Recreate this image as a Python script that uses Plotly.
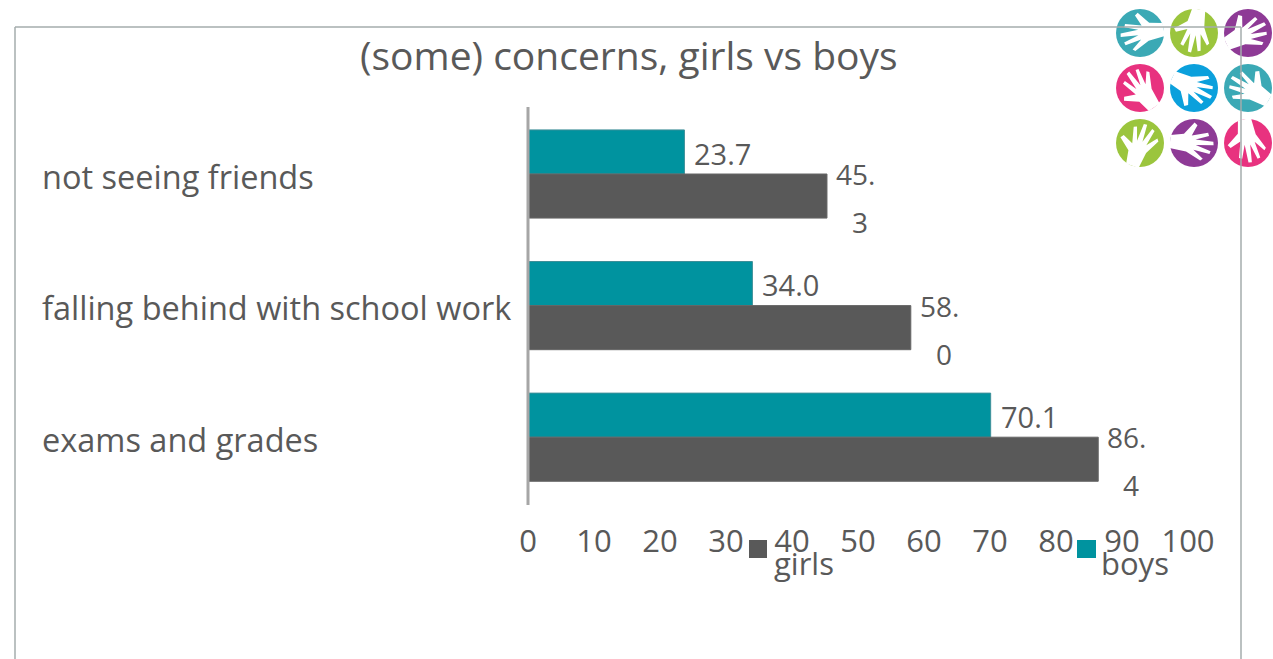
import math
import plotly.graph_objects as go

W, H = 1273, 659
FONT = "Open Sans"
TXT = "#595959"

title = "(some) concerns, girls vs boys"
categories = ["not seeing friends", "falling behind with school work", "exams and grades"]
boys = [23.7, 34.0, 70.1]
girls = [45.3, 58.0, 86.4]
tick_vals = [0, 10, 20, 30, 40, 50, 60, 70, 80, 90, 100]
BOYS_C = "#00939F"
GIRLS_C = "#595959"

def px(x): return x / W
def py(y): return 1 - y / H

fig = go.Figure()
fig.add_trace(go.Bar(name="boys", y=categories, x=boys, orientation="h",
                     marker=dict(color=BOYS_C, line=dict(color="#3d8f98", width=1))))
fig.add_trace(go.Bar(name="girls", y=categories, x=girls, orientation="h",
                     marker=dict(color=GIRLS_C, line=dict(color="#666666", width=1))))

ann = []
def note(text, x, y, size, anchor="left", xref="paper", yref="paper", xshift=0, yshift=0):
    ann.append(dict(text=text, x=x, y=y, xref=xref, yref=yref, xanchor=anchor, yanchor="middle",
                    showarrow=False, xshift=xshift, yshift=yshift,
                    font=dict(family=FONT, size=size, color=TXT)))

note(title, px(629), py(54), 39, "center")
for c in categories:
    note(c, px(40), c, 32.5, "left", "paper", "y", yshift=-2)

for c, v in zip(categories, boys):
    note(f"{v:.1f}", v, c, 29, "left", "x", "y", xshift=8, yshift=21)
for c, v in zip(categories, girls):
    s = f"{v:.1f}"
    a, b = s.split(".")
    note(a + ".", v, c, 28, "left", "x", "y", xshift=7, yshift=0)
    note(b, v, c, 28, "left", "x", "y", xshift=23, yshift=-48)

note("girls", px(772), py(563), 31)
note("boys", px(1099), py(563), 31)

shapes = []
def rect(x0, y0, x1, y1, color):
    shapes.append(dict(type="rect", xref="paper", yref="paper", x0=px(x0), x1=px(x1),
                       y0=py(y0), y1=py(y1), fillcolor=color, line=dict(width=0)))

rect(749, 540, 767, 558, GIRLS_C)
rect(1077, 540, 1096, 558, BOYS_C)

# logo: nine coloured discs, each with a white hand
TEAL, LIME, PURP, PINK, BLUE = "#3BA9B5", "#9BC53D", "#8E3A96", "#E8327F", "#0BA0DC"
HAND = [(-0.25, -1.0), (-0.35, -0.45), (-0.85, -0.05), (-0.75, 0.08), (-0.3, -0.12), (-0.48, 0.55),
        (-0.35, 0.6), (-0.15, 0.05), (-0.12, 0.8), (0.02, 0.82), (0.08, 0.08), (0.28, 0.72),
        (0.4, 0.68), (0.28, 0.0), (0.62, 0.42), (0.7, 0.32), (0.38, -0.3), (0.3, -1.0)]
# centre x, centre y, colour, direction of fingers (deg, clockwise from up), mirrored
DISCS = [(1140, 33, TEAL, -100, True), (1194, 33, LIME, 190, True), (1248, 33, PURP, 65, False),
         (1140, 88, PINK, -35, False), (1194, 88, BLUE, 115, True), (1248, 88, TEAL, -60, True),
         (1140, 143, LIME, 20, False), (1194, 143, PURP, 95, False), (1248, 143, PINK, 170, True)]
R = 24
for cx, cy, col, ang, mir in DISCS:
    shapes.append(dict(type="circle", xref="paper", yref="paper", x0=px(cx - R), x1=px(cx + R),
                       y0=py(cy + R), y1=py(cy - R), fillcolor=col, line=dict(width=0)))
    t = math.radians(ang)
    pts = []
    for hx, hy in HAND:
        hx = -hx if mir else hx
        X = hx * math.cos(t) + hy * math.sin(t)
        Y = -hx * math.sin(t) + hy * math.cos(t)
        pts.append((px(cx + X * R), py(cy - Y * R)))
    path = "M " + " L ".join(f"{a:.5f},{b:.5f}" for a, b in pts) + " Z"
    shapes.append(dict(type="path", xref="paper", yref="paper", path=path,
                       fillcolor="white", line=dict(width=0)))

# outer frame of the pasted chart
FRAME = "#A4ADAD"
for x0, y0, x1, y1 in [(15, 27, 1241, 27), (15, 27, 15, 659), (1241, 27, 1241, 659)]:
    shapes.append(dict(type="line", xref="paper", yref="paper", x0=px(x0), x1=px(x1),
                       y0=py(y0), y1=py(y1), line=dict(color=FRAME, width=1.5)))
shapes.append(dict(type="line", xref="paper", yref="paper", x0=px(528), x1=px(528),
                   y0=py(107), y1=py(505), line=dict(color="#A6A6A6", width=3)))

fig.update_layout(
    width=W, height=H, showlegend=False, barmode="group", bargap=0.33, bargroupgap=0,
    margin=dict(l=0, r=0, t=0, b=0, autoexpand=False), paper_bgcolor="white", plot_bgcolor="white",
    annotations=ann, shapes=shapes,
    xaxis=dict(domain=[px(528), px(1188)], range=[0, 100], tickmode="array", tickvals=tick_vals,
               automargin=False,
               showgrid=False, zeroline=False, showline=False, ticks="outside", ticklen=11,
               tickcolor="rgba(0,0,0,0)", tickfont=dict(family=FONT, size=31, color=TXT)),
    yaxis=dict(domain=[py(503), py(105)], autorange="reversed", showticklabels=False, showgrid=False,
               automargin=False,
               zeroline=False, showline=False, ticks=""),
)
fig.write_html("out.html", config={"displayModeBar": False},
               post_script="document.body.style.margin='0';document.documentElement.style.overflow='hidden';")
